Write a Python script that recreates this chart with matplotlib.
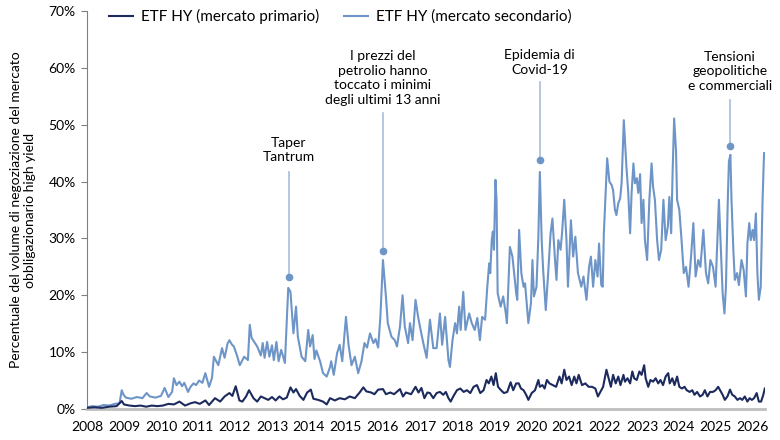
import matplotlib
matplotlib.use("Agg")
import matplotlib.pyplot as plt

# ==============================
# DATI (anno decimale, % del volume)
# ==============================

sec_t = [2008.00, 2008.15, 2008.30, 2008.45, 2008.60, 2008.75, 2008.88, 2008.94, 2008.98, 2009.05,
         2009.20, 2009.35, 2009.50, 2009.61, 2009.70, 2009.85, 2010.00, 2010.10, 2010.20, 2010.30,
         2010.35, 2010.42, 2010.50, 2010.57, 2010.63, 2010.73, 2010.80, 2010.88, 2010.95, 2011.03,
         2011.12, 2011.20, 2011.30, 2011.38, 2011.43, 2011.50, 2011.55, 2011.65, 2011.72, 2011.80,
         2011.85, 2011.92, 2011.97, 2012.05, 2012.13, 2012.25, 2012.35, 2012.40, 2012.45, 2012.50,
         2012.60, 2012.70, 2012.75, 2012.80, 2012.87, 2012.93, 2013.00, 2013.05, 2013.12, 2013.18,
         2013.25, 2013.35, 2013.44, 2013.50, 2013.58, 2013.65, 2013.70, 2013.80, 2013.90, 2013.98,
         2014.03, 2014.10, 2014.15, 2014.20, 2014.30, 2014.38, 2014.48, 2014.57, 2014.60, 2014.67,
         2014.76, 2014.83, 2014.90, 2015.00, 2015.07, 2015.15, 2015.24, 2015.33, 2015.42, 2015.50,
         2015.57, 2015.65, 2015.74, 2015.80, 2015.87, 2015.93, 2016.00, 2016.08, 2016.13, 2016.23,
         2016.32, 2016.38, 2016.46, 2016.53, 2016.59, 2016.68, 2016.73, 2016.80, 2016.88, 2016.95,
         2017.00, 2017.09, 2017.18, 2017.27, 2017.36, 2017.45, 2017.54, 2017.60, 2017.68, 2017.77,
         2017.81, 2017.88, 2017.95, 2018.00, 2018.06, 2018.10, 2018.17, 2018.23, 2018.33, 2018.40,
         2018.48, 2018.55, 2018.62, 2018.68, 2018.76, 2018.82, 2018.87, 2018.90, 2018.94, 2018.97,
         2019.00, 2019.04, 2019.07, 2019.10, 2019.18, 2019.25, 2019.32, 2019.35, 2019.43, 2019.50,
         2019.60, 2019.63, 2019.68, 2019.74, 2019.80, 2019.84, 2019.93, 2020.00, 2020.04, 2020.08,
         2020.15, 2020.20, 2020.24, 2020.29, 2020.33, 2020.40, 2020.47, 2020.53, 2020.58, 2020.65,
         2020.69, 2020.74, 2020.80, 2020.84, 2020.90, 2020.96, 2021.00, 2021.08, 2021.14, 2021.20,
         2021.27, 2021.36, 2021.42, 2021.50, 2021.57, 2021.62, 2021.68, 2021.74, 2021.80, 2021.84,
         2021.90, 2021.94, 2021.97, 2022.03, 2022.06, 2022.12, 2022.18, 2022.22, 2022.27, 2022.31,
         2022.36, 2022.41, 2022.45, 2022.48, 2022.51, 2022.55, 2022.58, 2022.63, 2022.68, 2022.72,
         2022.77, 2022.81, 2022.86, 2022.90, 2022.95, 2022.99, 2023.04, 2023.08, 2023.14, 2023.20,
         2023.26, 2023.30, 2023.35, 2023.41, 2023.46, 2023.52, 2023.58, 2023.64, 2023.70, 2023.74,
         2023.79, 2023.83, 2023.87, 2023.92, 2023.95, 2024.01, 2024.07, 2024.13, 2024.19, 2024.26,
         2024.32, 2024.39, 2024.45, 2024.52, 2024.58, 2024.66, 2024.73, 2024.79, 2024.85, 2024.92,
         2024.99, 2025.03, 2025.08, 2025.14, 2025.18, 2025.23, 2025.27, 2025.32, 2025.35, 2025.39,
         2025.42, 2025.47, 2025.51, 2025.57, 2025.62, 2025.69, 2025.75, 2025.81, 2025.85, 2025.90,
         2025.94, 2025.99, 2026.03, 2026.08, 2026.12, 2026.16, 2026.21, 2026.26, 2026.30]
sec_v = [0.3, 0.5, 0.4, 0.7, 0.6, 0.9, 1.0, 3.3, 2.6, 2.0,
         1.8, 2.1, 1.9, 2.8, 2.2, 2.0, 2.3, 3.7, 2.1, 3.0,
         5.4, 4.2, 4.8, 4.0, 4.6, 3.0, 3.9, 4.5, 4.2, 5.0,
         4.6, 6.3, 3.9, 5.5, 9.2, 8.3, 7.7, 10.7, 9.0, 11.5,
         12.1, 11.3, 11.0, 9.5, 7.7, 9.2, 8.6, 14.8, 12.5, 12.0,
         11.0, 9.4, 11.6, 9.0, 11.8, 9.2, 11.2, 8.6, 11.8, 8.4,
         10.4, 8.1, 21.3, 20.6, 13.3, 18.0, 12.7, 9.2, 8.4, 13.9,
         11.0, 13.0, 8.8, 10.3, 8.4, 6.3, 5.7, 7.4, 8.4, 6.0,
         9.8, 11.3, 8.4, 16.2, 11.3, 7.7, 9.2, 6.3, 8.4, 11.6,
         10.8, 13.3, 11.6, 12.3, 10.8, 16.2, 26.2, 19.8, 15.1, 12.7,
         12.1, 11.0, 14.5, 20.0, 14.5, 11.6, 15.1, 12.1, 19.2, 16.2,
         14.5, 11.6, 9.0, 15.7, 10.7, 10.7, 16.8, 11.3, 16.2, 8.6,
         7.4, 12.1, 15.1, 13.3, 18.0, 13.9, 20.6, 13.9, 16.8, 15.1,
         13.9, 16.0, 12.1, 16.2, 15.7, 21.5, 25.6, 23.9, 29.7, 31.2,
         28.0, 40.3, 36.8, 20.4, 18.0, 19.8, 16.8, 15.1, 28.5, 26.8,
         20.4, 19.2, 31.5, 23.9, 21.5, 22.1, 15.1, 18.6, 26.2, 19.8,
         21.5, 30.3, 41.7, 29.7, 24.4, 17.4, 24.4, 30.9, 33.5, 26.2,
         22.7, 29.7, 28.0, 30.9, 36.8, 29.7, 21.5, 33.2, 26.8, 30.3,
         23.9, 21.5, 23.3, 19.2, 25.0, 26.8, 21.5, 26.2, 23.3, 29.1,
         21.8, 21.5, 30.9, 39.7, 44.1, 40.0, 39.4, 38.5, 35.0, 34.1,
         36.2, 37.0, 39.7, 45.5, 50.8, 46.1, 42.6, 38.0, 30.9, 38.0,
         43.2, 39.7, 40.6, 38.0, 41.3, 32.7, 36.8, 29.7, 26.2, 36.8,
         43.2, 39.1, 36.8, 29.7, 26.2, 28.0, 36.8, 29.7, 32.1, 37.3,
         30.9, 42.0, 51.1, 45.5, 36.8, 35.0, 29.7, 23.9, 25.0, 21.5,
         26.2, 32.7, 23.3, 26.2, 25.0, 31.5, 23.9, 22.1, 26.2, 25.0,
         21.5, 28.5, 36.8, 26.8, 20.4, 16.8, 21.5, 36.8, 43.5, 44.7,
         36.8, 28.0, 22.7, 23.9, 21.8, 26.2, 24.4, 19.8, 29.1, 32.7,
         29.7, 31.5, 29.7, 34.4, 23.9, 19.2, 21.5, 36.8, 45.0]

prim_t = [2008.00, 2008.20, 2008.40, 2008.60, 2008.80, 2008.94, 2009.00, 2009.15, 2009.30, 2009.45,
          2009.60, 2009.75, 2009.90, 2010.05, 2010.20, 2010.35, 2010.50, 2010.65, 2010.80, 2010.92,
          2011.05, 2011.20, 2011.30, 2011.46, 2011.60, 2011.72, 2011.85, 2011.93, 2012.02, 2012.12,
          2012.20, 2012.30, 2012.38, 2012.50, 2012.60, 2012.70, 2012.80, 2012.90, 2013.00, 2013.10,
          2013.20, 2013.30, 2013.40, 2013.50, 2013.58, 2013.65, 2013.75, 2013.85, 2013.95, 2014.05,
          2014.12, 2014.25, 2014.38, 2014.48, 2014.57, 2014.70, 2014.83, 2014.97, 2015.10, 2015.24,
          2015.37, 2015.47, 2015.55, 2015.68, 2015.77, 2015.87, 2016.00, 2016.08, 2016.20, 2016.30,
          2016.46, 2016.54, 2016.62, 2016.76, 2016.88, 2016.96, 2017.04, 2017.12, 2017.20, 2017.27,
          2017.36, 2017.45, 2017.54, 2017.63, 2017.70, 2017.77, 2017.83, 2017.90, 2018.00, 2018.09,
          2018.18, 2018.27, 2018.36, 2018.45, 2018.54, 2018.63, 2018.72, 2018.80, 2018.86, 2018.93,
          2018.99, 2019.05, 2019.11, 2019.19, 2019.27, 2019.36, 2019.45, 2019.52, 2019.60, 2019.67,
          2019.73, 2019.80, 2019.87, 2019.93, 2020.02, 2020.11, 2020.20, 2020.24, 2020.31, 2020.37,
          2020.43, 2020.50, 2020.59, 2020.68, 2020.77, 2020.83, 2020.90, 2020.96, 2021.03, 2021.10,
          2021.17, 2021.23, 2021.29, 2021.38, 2021.47, 2021.56, 2021.65, 2021.74, 2021.81, 2021.86,
          2021.95, 2022.04, 2022.10, 2022.16, 2022.22, 2022.29, 2022.36, 2022.42, 2022.50, 2022.54,
          2022.61, 2022.68, 2022.74, 2022.79, 2022.86, 2022.93, 2022.99, 2023.06, 2023.10, 2023.17,
          2023.23, 2023.30, 2023.37, 2023.44, 2023.50, 2023.57, 2023.64, 2023.71, 2023.75, 2023.82,
          2023.88, 2023.95, 2024.01, 2024.08, 2024.15, 2024.21, 2024.29, 2024.36, 2024.42, 2024.49,
          2024.57, 2024.64, 2024.70, 2024.77, 2024.84, 2024.92, 2024.99, 2025.06, 2025.11, 2025.18,
          2025.24, 2025.31, 2025.38, 2025.44, 2025.51, 2025.58, 2025.65, 2025.71, 2025.78, 2025.85,
          2025.91, 2025.97, 2026.03, 2026.10, 2026.16, 2026.22, 2026.28, 2026.32]
prim_v = [0.2, 0.3, 0.2, 0.4, 0.5, 1.4, 0.8, 0.6, 0.5, 0.6,
          0.4, 0.6, 0.5, 0.6, 0.9, 0.8, 1.3, 0.6, 1.0, 1.2,
          0.9, 1.5, 0.7, 1.9, 1.3, 2.2, 2.8, 2.3, 4.0, 1.5,
          1.3, 2.2, 3.3, 1.9, 1.3, 2.2, 1.9, 1.6, 2.1, 1.5,
          2.2, 1.7, 2.0, 3.8, 2.9, 3.5, 2.3, 1.6, 2.9, 3.4,
          1.8, 1.6, 1.3, 0.8, 1.9, 1.5, 1.9, 1.7, 2.2, 1.9,
          2.9, 3.8, 3.1, 2.9, 2.6, 3.4, 3.5, 2.6, 2.9, 2.6,
          3.5, 2.2, 2.9, 2.6, 3.9, 2.9, 3.7, 1.9, 2.9, 2.8,
          1.9, 2.8, 3.0, 2.5, 3.0, 1.9, 1.3, 2.2, 3.3, 3.6,
          3.0, 3.3, 2.8, 3.9, 4.2, 2.8, 3.3, 5.1, 4.5, 5.7,
          4.2, 6.3, 3.9, 3.3, 2.8, 3.0, 4.7, 3.3, 4.5, 4.5,
          3.6, 3.3, 2.5, 1.6, 2.8, 3.3, 5.1, 3.9, 4.2, 3.6,
          5.1, 4.5, 4.2, 3.9, 5.7, 4.5, 6.9, 5.1, 5.7, 4.2,
          5.7, 4.5, 6.0, 4.2, 4.5, 3.9, 3.9, 3.6, 2.2, 2.8,
          3.9, 6.9, 5.4, 3.9, 6.0, 4.5, 5.7, 4.2, 6.0, 4.8,
          5.4, 4.5, 6.6, 5.4, 5.1, 6.6, 6.0, 7.7, 5.4, 3.9,
          5.1, 4.8, 5.4, 4.5, 5.1, 4.2, 5.7, 6.3, 4.5, 5.4,
          4.2, 5.7, 3.9, 3.6, 3.9, 3.3, 3.0, 3.3, 2.5, 3.0,
          2.2, 2.5, 3.3, 2.2, 3.0, 3.0, 3.3, 3.9, 3.3, 2.5,
          1.6, 2.2, 3.4, 2.5, 2.2, 1.6, 1.9, 1.6, 2.2, 1.3,
          1.9, 1.6, 1.9, 2.8, 1.3, 1.3, 2.5, 3.6]

# eventi annotati: data, valore del punto, cima della linea, testo
event_t = [2013.46, 2016.00, 2020.24, 2025.38]
event_dot = [23.2, 27.8, 43.8, 46.3]
event_top = [41.7, 52.0, 57.5, 54.3]
event_text_y = [43.2, 53.3, 58.6, 55.8]
event_labels = ["Taper\nTantrum",
                "I prezzi del\npetrolio hanno\ntoccato i minimi\ndegli ultimi 13 anni",
                "Epidemia di\nCovid-19",
                "Tensioni\ngeopolitiche\ne commerciali"]

years = list(range(2008, 2027))
y_ticks = list(range(0, 71, 10))

# ==============================
# GRAFICO
# ==============================

plt.rcParams['font.family'] = ['Lato', 'DejaVu Sans']
plt.rcParams['font.size'] = 10

col_prim = "#1c2a5e"
col_sec = "#6e95c7"
col_ann = "#a8bddb"

fig = plt.figure(figsize=(7.8, 4.4), dpi=100)
ax = fig.add_axes([0.1115, 0.0705, 0.869, 0.9045])

ax.plot(prim_t, prim_v, color=col_prim, lw=1.5, label="ETF HY (mercato primario)", zorder=3)
ax.plot(sec_t, sec_v, color=col_sec, lw=1.5, label="ETF HY (mercato secondario)", zorder=2)

for t, d, top, ty, lab in zip(event_t, event_dot, event_top, event_text_y, event_labels):
    ax.plot([t, t], [d, top], color=col_ann, lw=1.2, zorder=1)
    ax.plot([t], [d], "o", color=col_sec, ms=4.5, zorder=4)
    ax.text(t, ty, lab, ha="center", va="bottom", fontsize=10, color="black",
            linespacing=1.25)

ax.set_xlim(2008.0, 2026.32)
ax.set_ylim(0, 70)
ax.set_xticks(years)
ax.set_xticklabels([str(y) for y in years])
ax.set_yticks(y_ticks)
ax.set_yticklabels([f"{v}%" for v in y_ticks])

ax.spines["top"].set_visible(False)
ax.spines["right"].set_visible(False)
ax.spines["left"].set_color("#808080")
ax.spines["bottom"].set_color("#bfbfbf")
ax.spines["bottom"].set_linewidth(2)
ax.tick_params(axis="x", length=0, pad=9, labelsize=10)
ax.tick_params(axis="y", length=4, color="#808080", pad=4, labelsize=10)

ax.set_ylabel("Percentuale del volume di negoziazione del mercato\nobbligazionario high yield",
              fontsize=10, labelpad=9, linespacing=1.2)

ax.legend(loc="upper left", bbox_to_anchor=(0.012, 1.04), ncol=2, frameon=False,
          handlelength=1.6, columnspacing=1.6, handletextpad=0.5, fontsize=11)

fig.savefig("out.png", dpi=100)
